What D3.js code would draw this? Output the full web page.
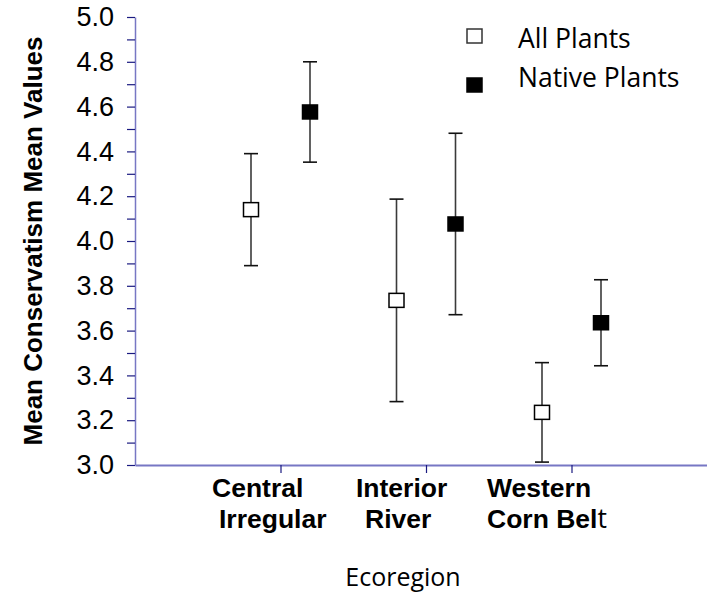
<!DOCTYPE html>
<html>
<head>
<meta charset="utf-8">
<script src="https://cdn.jsdelivr.net/npm/d3@7"></script>
<style>
  html, body { margin: 0; padding: 0; background: #fff; }
  svg { display: block; }
</style>
</head>
<body>
<svg id="chart" width="707" height="592"></svg>
<script>
// Ecoregion categories and the two plant groups
const categories = ["Central Irregular", "Interior River", "Western Corn Belt"];
const seriesNames = ["All Plants", "Native Plants"];

// Mean conservatism values and error-bar half-widths per ecoregion
const allMeans = [4.14, 3.735, 3.235];
const allErrors = [0.25, 0.452, 0.222];
const nativeMeans = [4.576, 4.076, 3.635];
const nativeErrors = [0.224, 0.405, 0.192];

// Y axis ticks: every 0.1, labelled every 0.2
const yTickValues = d3.range(0, 21).map(i => +(3 + i * 0.1).toFixed(1));
const yLabelValues = d3.range(0, 11).map(i => +(3 + i * 0.2).toFixed(1));

// Category label lines (last line of Western Corn Belt ends in a plain "t")
const labelLines = [["Central", "Irregular"], ["Interior", "River"], ["Western", "Corn Bel"]];

const svg = d3.select("#chart");
const W = 707, H = 592;
const margin = { left: 135, top: 17, bottom: 127 };

const y = d3.scaleLinear().domain([3.0, 5.0]).range([H - margin.bottom, margin.top]);
const x = d3.scalePoint().domain(categories).range([margin.left, 717]).padding(1);
const offset = d3.scalePoint().domain(seriesNames).range([-29.5, 29.5]);

const axisColor = "#7777c4";
const tickColor = "#1a1a80";

// Y axis
const yAxis = d3.axisLeft(y)
  .tickValues(yTickValues)
  .tickSize(8)
  .tickSizeOuter(0)
  .tickPadding(13)
  .tickFormat(d => yLabelValues.includes(d) ? d3.format(".1f")(d) : "");
const gy = svg.append("g").attr("transform", `translate(${margin.left},0)`).call(yAxis);
gy.select(".domain").attr("stroke", axisColor).attr("stroke-width", 1.5);
gy.selectAll(".tick line").attr("stroke", tickColor).attr("stroke-width", 1.2);
gy.selectAll(".tick text")
  .attr("fill", "#000")
  .style("font-family", "'Liberation Sans', Arial, sans-serif")
  .style("font-size", "27px");

// X axis
const xAxis = d3.axisBottom(x).tickSize(8).tickSizeOuter(0).tickFormat("");
const gx = svg.append("g").attr("transform", `translate(0,${y(3.0)})`).call(xAxis);
gx.select(".domain").attr("stroke", axisColor).attr("stroke-width", 2);
gx.selectAll(".tick line").attr("stroke", tickColor).attr("stroke-width", 1.2);

// Category labels
const lineStarts = [[-68.5, -61.5], [-70, -61], [-84.5, -84.5]];
const lineBaselines = [497, 528];
categories.forEach((c, i) => {
  labelLines[i].forEach((ln, j) => {
    const t = svg.append("text")
      .attr("x", x(c) + lineStarts[i][j])
      .attr("y", lineBaselines[j])
      .style("font-family", "'Liberation Sans', Arial, sans-serif")
      .style("font-weight", "bold")
      .style("font-size", "26.5px")
      .attr("fill", "#000")
      .text(ln);
    if (i === 2 && j === 1) {
      t.append("tspan")
        .style("font-family", "'Open Sans', sans-serif")
        .style("font-weight", "normal")
        .text("t");
    }
  });
});

// Axis titles
svg.append("text")
  .attr("transform", `translate(42,${(y(3) + y(5)) / 2}) rotate(-90)`)
  .attr("text-anchor", "middle")
  .style("font-family", "'Liberation Sans', Arial, sans-serif")
  .style("font-weight", "bold")
  .style("font-size", "26px")
  .attr("fill", "#000")
  .text("Mean Conservatism Mean Values");

svg.append("text")
  .attr("x", 403)
  .attr("y", 586)
  .attr("text-anchor", "middle")
  .style("font-family", "'Open Sans', sans-serif")
  .style("font-size", "25px")
  .attr("fill", "#000")
  .text("Ecoregion");

// Points with error bars
const groups = [
  { name: seriesNames[0], means: allMeans, errors: allErrors, fill: "#fff" },
  { name: seriesNames[1], means: nativeMeans, errors: nativeErrors, fill: "#000" }
];
const capW = 14, boxW = 15, boxH = 14;

groups.forEach(g => {
  const pts = categories.map((c, i) => ({ cx: x(c) + offset(g.name), m: g.means[i], e: g.errors[i] }));
  const layer = svg.append("g");
  layer.selectAll("line.stem").data(pts).join("line")
    .attr("class", "stem")
    .attr("x1", d => d.cx).attr("x2", d => d.cx)
    .attr("y1", d => y(d.m + d.e)).attr("y2", d => y(d.m - d.e))
    .attr("stroke", "#3a3a3a").attr("stroke-width", 1.6);
  ["+", "-"].forEach(sign => {
    layer.selectAll(`line.cap${sign === "+" ? "u" : "l"}`).data(pts).join("line")
      .attr("class", `cap${sign === "+" ? "u" : "l"}`)
      .attr("x1", d => d.cx - capW / 2).attr("x2", d => d.cx + capW / 2)
      .attr("y1", d => y(sign === "+" ? d.m + d.e : d.m - d.e))
      .attr("y2", d => y(sign === "+" ? d.m + d.e : d.m - d.e))
      .attr("stroke", "#111").attr("stroke-width", 1.6);
  });
  layer.selectAll("rect").data(pts).join("rect")
    .attr("x", d => d.cx - boxW / 2).attr("y", d => y(d.m) - boxH / 2)
    .attr("width", boxW).attr("height", boxH)
    .attr("fill", g.fill).attr("stroke", "#000").attr("stroke-width", 1.5);
});

// Legend
const legend = svg.append("g");
const legendRows = [{ name: seriesNames[0], fill: "#fff", cy: 36, ty: 48 }, { name: seriesNames[1], fill: "#000", cy: 85, ty: 87 }];
legendRows.forEach(r => {
  legend.append("rect")
    .attr("x", 467).attr("y", r.cy - 7)
    .attr("width", 15).attr("height", 14)
    .attr("fill", r.fill).attr("stroke", r.fill === "#fff" ? "#333" : "#000").attr("stroke-width", 1.5);
  legend.append("text")
    .attr("x", 518).attr("y", r.ty)
    .style("font-family", "'Open Sans', sans-serif")
    .style("font-size", "26.5px")
    .attr("fill", "#000")
    .text(r.name);
});
</script>
</body>
</html>
